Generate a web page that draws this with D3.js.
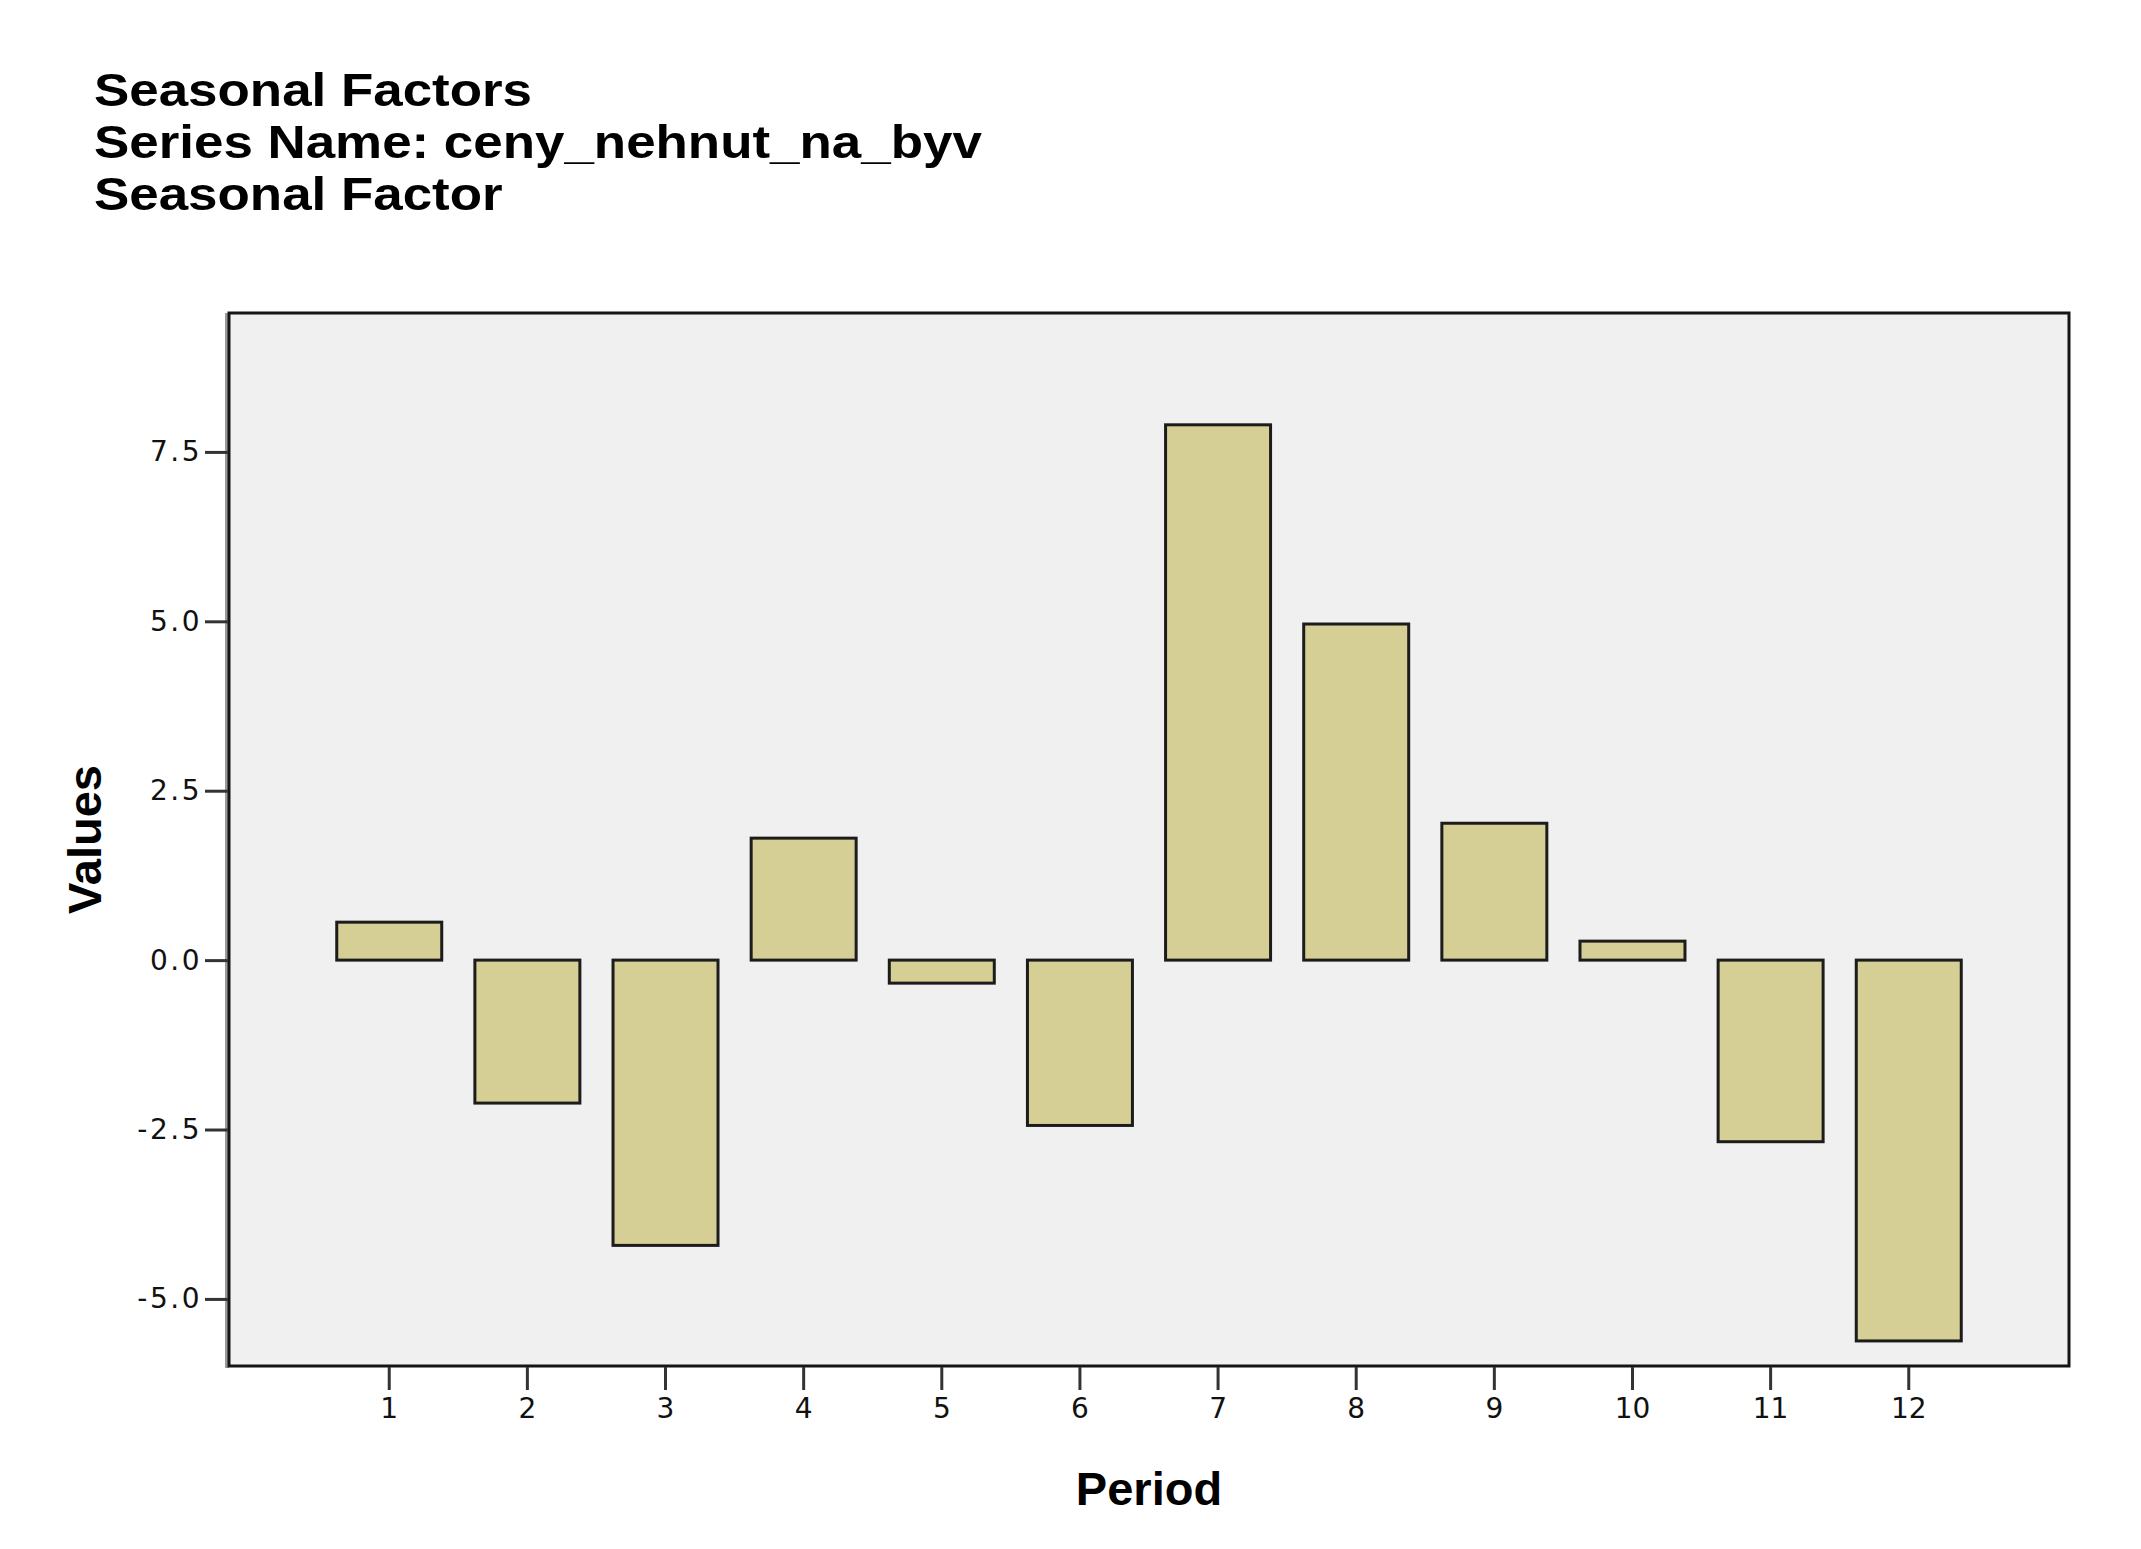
<!DOCTYPE html>
<html>
<head>
<meta charset="utf-8">
<script src="https://cdn.jsdelivr.net/npm/d3@7"></script>
<style>
  html, body { margin: 0; padding: 0; background: #ffffff; }
  svg { display: block; }
</style>
</head>
<body>
<svg id="chart" width="2141" height="1549"></svg>
<script>
// ---- data ----
const periods = [1, 2, 3, 4, 5, 6, 7, 8, 9, 10, 11, 12];
const seasonalFactor = [0.56, -2.11, -4.21, 1.80, -0.34, -2.44, 7.90, 4.96, 2.02, 0.28, -2.68, -5.62];
const yTickValues = [-5.0, -2.5, 0.0, 2.5, 5.0, 7.5];
const titleLines = ["Seasonal Factors", "Series Name: ceny_nehnut_na_byv", "Seasonal Factor"];
const xAxisTitle = "Period";
const yAxisTitle = "Values";

// ---- layout ----
const svg = d3.select("#chart");
const plot = { left: 229, top: 313, right: 2069, bottom: 1366 };

const x = d3.scaleBand()
  .domain(periods)
  .range([plot.left, plot.right])
  .paddingInner(0.24)
  .paddingOuter(0.78);

const y = d3.scaleLinear()
  .domain([-5.99, 9.55])
  .range([plot.bottom, plot.top]);

// title: three lines, slightly widened glyphs
const title = svg.append("g")
  .attr("transform", "translate(94,0) scale(1.15,1)");
title.selectAll("text")
  .data(titleLines)
  .join("text")
  .attr("x", 0)
  .attr("y", (d, i) => 106 + i * 52)
  .attr("font-family", "Liberation Sans, Arial, sans-serif")
  .attr("font-weight", "bold")
  .attr("font-size", 46)
  .attr("fill", "#000")
  .text((d) => d);

// plot background
svg.append("rect")
  .attr("x", plot.left - 4).attr("y", plot.top)
  .attr("width", 4).attr("height", plot.bottom - plot.top + 2)
  .attr("fill", "#9a9a9a");
svg.append("rect")
  .attr("x", plot.left)
  .attr("y", plot.top)
  .attr("width", plot.right - plot.left)
  .attr("height", plot.bottom - plot.top)
  .attr("fill", "#f0f0f0");

// bars
svg.append("g")
  .selectAll("rect")
  .data(periods)
  .join("rect")
  .attr("x", (d) => x(d))
  .attr("width", x.bandwidth())
  .attr("y", (d, i) => y(Math.max(0, seasonalFactor[i])))
  .attr("height", (d, i) => Math.abs(y(seasonalFactor[i]) - y(0)))
  .attr("fill", "#d5cf96")
  .attr("stroke", "#1c1c1c")
  .attr("stroke-width", 3);

// frame
svg.append("rect")
  .attr("x", plot.left)
  .attr("y", plot.top)
  .attr("width", plot.right - plot.left)
  .attr("height", plot.bottom - plot.top)
  .attr("fill", "none")
  .attr("stroke", "#151515")
  .attr("stroke-width", 3);

// y axis
const fmt = d3.format(".1f");
const yAxis = d3.axisLeft(y)
  .tickValues(yTickValues)
  .tickFormat((d) => fmt(d).replace("\u2212", "-"))
  .tickSize(23)
  .tickPadding(3);
const gy = svg.append("g")
  .attr("transform", `translate(${plot.left - 1},0)`)
  .call(yAxis);
gy.select(".domain").remove();
gy.selectAll(".tick line").attr("stroke", "#333").attr("stroke-width", 3);
gy.selectAll(".tick text")
  .attr("font-family", "DejaVu Sans, sans-serif")
  .attr("font-size", 28)
  .attr("letter-spacing", 2.5)
  .attr("fill", "#111");

// x axis
const xAxis = d3.axisBottom(x)
  .tickSize(23)
  .tickPadding(8);
const gx = svg.append("g")
  .attr("transform", `translate(0,${plot.bottom + 1})`)
  .call(xAxis);
gx.select(".domain").remove();
gx.selectAll(".tick line").attr("stroke", "#333").attr("stroke-width", 3);
gx.selectAll(".tick text")
  .attr("font-family", "DejaVu Sans, sans-serif")
  .attr("font-size", 28)
  .attr("fill", "#111");

// axis titles
svg.append("text")
  .attr("x", (plot.left + plot.right) / 2)
  .attr("y", 1505)
  .attr("text-anchor", "middle")
  .attr("font-family", "Liberation Sans, Arial, sans-serif")
  .attr("font-weight", "bold")
  .attr("font-size", 47)
  .attr("fill", "#000")
  .text(xAxisTitle);

svg.append("text")
  .attr("transform", `translate(101,${(plot.top + plot.bottom) / 2}) rotate(-90)`)
  .attr("text-anchor", "middle")
  .attr("font-family", "Liberation Sans, Arial, sans-serif")
  .attr("font-weight", "bold")
  .attr("font-size", 47)
  .attr("fill", "#000")
  .text(yAxisTitle);
</script>
</body>
</html>
